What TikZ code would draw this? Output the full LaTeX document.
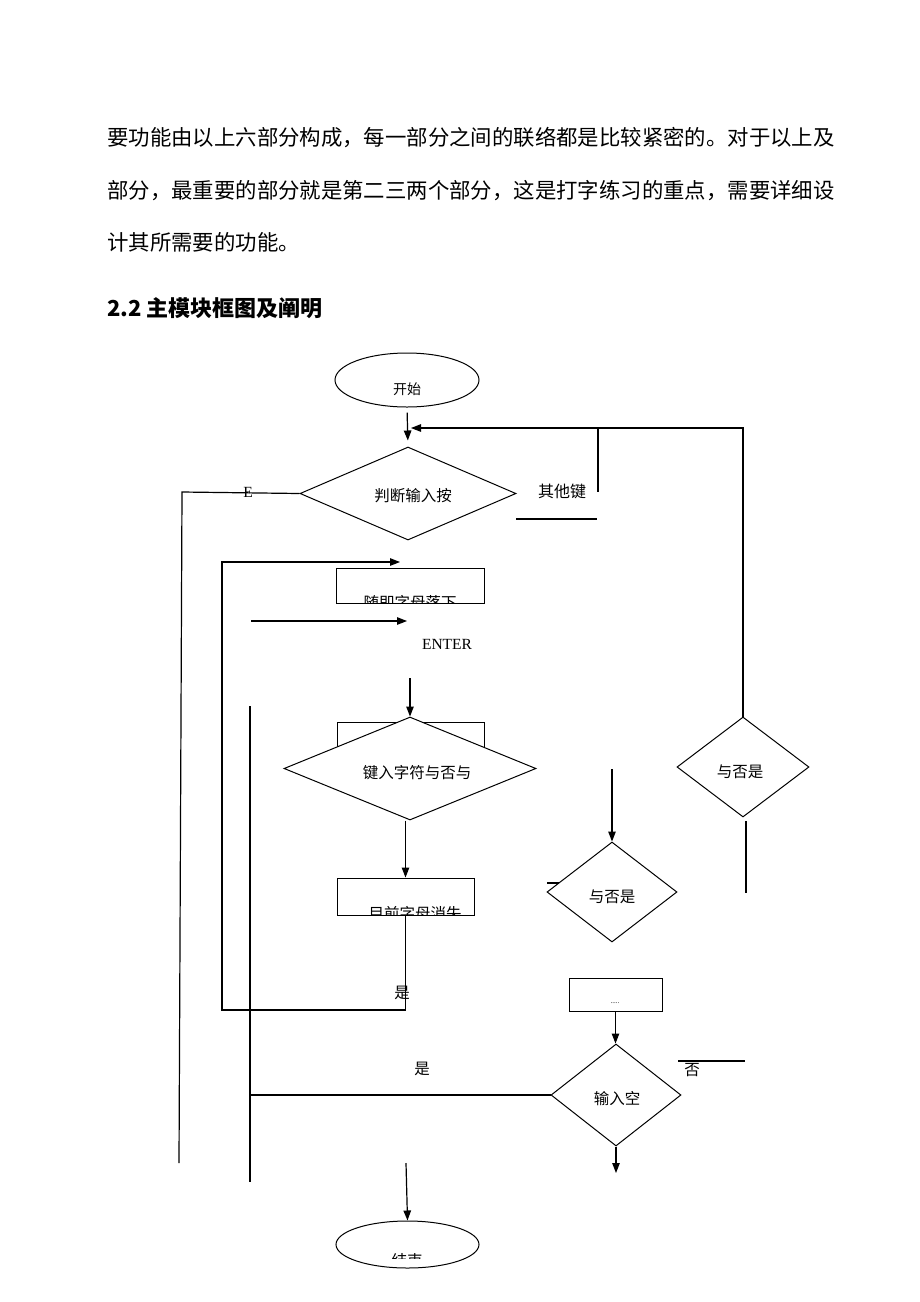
\documentclass[tikz,border=0pt]{standalone}
\usepackage{fontspec}
\setmainfont{Liberation Serif}
\newfontfamily\cjk{Noto Sans CJK SC}
\usetikzlibrary{shapes.geometric,arrows.meta}
\tikzset{
  ln/.style={draw=black,line width=1.2pt},
  arr/.style={ln,-{Triangle[length=10pt,width=7.5pt]}},
  dia/.style={diamond,draw=black,fill=white,line width=1pt,inner sep=0pt},
  bx/.style={rectangle,draw=black,line width=1pt,inner sep=0pt},
  ell/.style={ellipse,draw=black,line width=1pt,inner sep=0pt},
  lab/.style={inner sep=0pt,font={\cjk\fontsize{15.5pt}{18pt}\selectfont}},
  rom/.style={inner sep=0pt,font={\fontsize{15.5pt}{18pt}\selectfont}},
  body/.style={inner sep=0pt,anchor=west,font={\cjk\fontsize{21.4pt}{26pt}\selectfont}}
}
\begin{document}
\begin{tikzpicture}[x=1pt,y=-1pt]
\useasboundingbox[fill=white] (0,0) rectangle (920,1302);

% body text
\node[body] (t1) at (107,138) {要功能由以上六部分构成，每一部分之间的联络都是比较紧密的。对于以上及};
\node[body] (t2) at (107,191) {部分，最重要的部分就是第二三两个部分，这是打字练习的重点，需要详细设};
\node[body] (t3) at (107,242) {计其所需要的功能。};
\node[body,font={\cjk\bfseries\fontsize{22pt}{26pt}\selectfont}] (h) at (107,308) {2.2 主模块框图及阐明};

% shapes
\node[ell,minimum width=144pt,minimum height=54pt] (start) at (407,380) {};
\node[lab,font={\cjk\fontsize{14pt}{16pt}\selectfont}] (starttxt) at (407,389) {开始};

\node[dia,minimum width=216pt,minimum height=93pt] (judge) at (408,493.5) {};
\node[lab] (judgetxt) at (413,496) {判断输入按};

\node[bx,minimum width=148pt,minimum height=35pt] (fall) at (410,585.5) {};
\begin{scope}
\clip (336,560) rectangle (484,603);
\node[lab] (falltxt) at (410,603) {随即字母落下};
\end{scope}

\node[bx,minimum width=147pt,minimum height=40pt] (behind) at (410.5,742) {};
\node[dia,minimum width=252pt,minimum height=103pt] (key) at (410,768.5) {};
\node[lab] (keytxt) at (417,773) {键入字符与否与};

\node[bx,minimum width=137pt,minimum height=37pt] (vanish) at (405.5,896.5) {};
\begin{scope}
\clip (337,870) rectangle (474,915);
\node[lab] (vanishtxt) at (415,914) {目前字母消失};
\end{scope}

\node[dia,minimum width=130pt,minimum height=100pt] (yn1) at (612,892) {};
\node[lab] (yn1txt) at (612,897) {与否是};

\node[dia,minimum width=132pt,minimum height=100pt] (yn2) at (743,767) {};
\node[lab] (yn2txt) at (740,772) {与否是};

\node[bx,minimum width=93pt,minimum height=33pt] (dots) at (615.5,994.5) {};
\node[inner sep=0pt,font=\fontsize{7pt}{8pt}\selectfont] (dotstxt) at (615,1003) {.....};

\node[dia,minimum width=130pt,minimum height=102pt] (emp) at (616,1095) {};
\node[lab] (emptxt) at (617,1099) {输入空};

\node[ell,minimum width=143pt,minimum height=47pt] (end) at (407.5,1244.5) {};
\begin{scope}
\clip (336,1221) rectangle (479,1258);
\node[lab] (endtxt) at (407,1261) {结束};
\end{scope}

% labels
\node[lab,font={\cjk\fontsize{16pt}{18pt}\selectfont}] (other) at (562,491) {其他键};
\node[rom] (elab) at (248,492) {E};
\node[rom] (enter) at (447,644) {ENTER};
\node[lab] (yes1) at (402,993) {是};
\node[lab] (yes2) at (422,1069) {是};
\node[lab] (no1) at (692,1070) {否};

% coordinates
\coordinate (fb) at (411,428);
\coordinate (v598a) at (598,428);
\coordinate (v598b) at (598,492);
\coordinate (ul1) at (516,519);
\coordinate (ul2) at (597,519);
\coordinate (eTop) at (182,492);
\coordinate (eBot) at (179,1163);
\coordinate (lp1) at (405.5,1010);
\coordinate (lp2) at (222,1010);
\coordinate (lp3) at (222,562);
\coordinate (lp4) at (400,562);
\coordinate (en1) at (251,621);
\coordinate (en2) at (407,621);
\coordinate (ka) at (410,678);
\coordinate (lvTop) at (250,706);
\coordinate (lvBot) at (250,1182);
\coordinate (ya) at (612,769);
\coordinate (tk1) at (547,883);
\coordinate (tk2) at (559,883);
\coordinate (yb1) at (746,821);
\coordinate (yb2) at (746,893);
\coordinate (no2) at (678,1061);
\coordinate (no3) at (745,1061);
\coordinate (eb) at (616,1173);
\coordinate (ea) at (406,1163);

% connectors
\draw[arr,shorten <=5pt,shorten >=6pt] (start.south) -- (judge.north);
\draw[arr] (yn2.north) -- (yn2.north |- fb) -- (fb);
\draw[ln] (v598a) -- (v598b);
\draw[ln] (ul1) -- (ul2);
\draw[ln] (judge.west) -- (eTop) -- (eBot);
\draw[arr] (vanish.south) -- (lp1) -- (lp2) -- (lp3) -- (lp4);
\draw[arr] (en1) -- (en2);
\draw[arr] (ka) -- (key.north);
\draw[arr] (key.south -| vanish.north) -- (vanish.north);
\draw[ln] (lvTop) -- (lvBot);
\draw[ln] (emp.west) -- (emp.west -| lvTop);
\draw[arr] (ya) -- (yn1.north);
\draw[ln] (tk1) -- (tk2);
\draw[ln] (yb1) -- (yb2);
\draw[arr] (dots.south) -- (dots.south |- emp.north);
\draw[ln] (no2) -- (no3);
\draw[arr] (emp.south) -- (eb);
\draw[arr] (ea) -- (end.north);
\end{tikzpicture}
\end{document}
